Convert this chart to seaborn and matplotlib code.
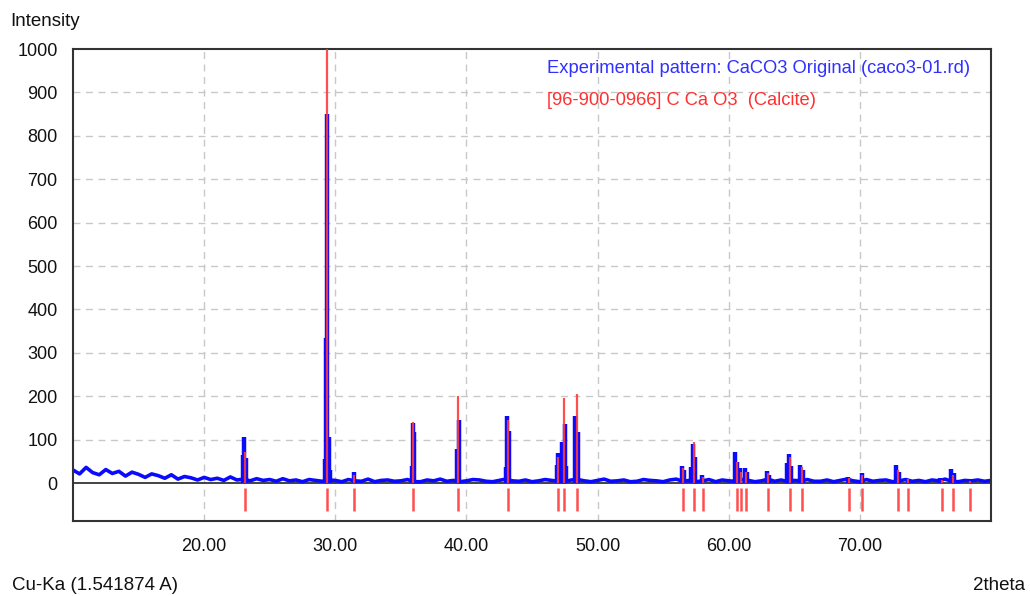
import numpy as np
import pandas as pd
import matplotlib
matplotlib.use('Agg')
import matplotlib.pyplot as plt
import seaborn as sns

# reference pattern (Calcite) - stick positions / intensities
ref_theta = [23.08, 29.38, 31.40, 35.92, 39.36, 43.16, 47.02, 47.42, 48.44,
             56.50, 57.38, 58.04, 60.60, 60.97, 61.35, 63.02, 64.66, 65.58,
             69.15, 70.20, 72.88, 73.66, 76.25, 77.12, 78.40]
ref_int = [72, 1000, 18, 140, 200, 145, 60, 195, 205,
           34, 95, 15, 49, 26, 26, 24, 60, 38,
           12, 18, 29, 10, 8, 18, 4]

# experimental pattern - peak tops
exp_theta = [22.95, 23.05, 23.18, 29.20, 29.30, 29.40, 29.52, 29.62, 31.40,
             35.85, 35.93, 36.02, 39.28, 39.42, 43.02, 43.10, 43.22,
             46.92, 46.99, 47.17, 47.30, 47.50, 47.63, 48.31, 48.51,
             56.44, 56.59, 57.13, 57.27, 57.46, 57.96,
             60.50, 60.63, 60.88, 61.21, 61.38, 62.91, 63.10,
             64.43, 64.56, 64.74, 65.46, 65.64, 69.08, 70.14,
             72.77, 72.95, 73.70, 76.14, 76.95, 77.20]
exp_int = [64, 105, 58, 55, 333, 850, 106, 30, 26,
           40, 138, 118, 78, 145, 37, 154, 120,
           41, 69, 53, 95, 137, 39, 154, 118,
           40, 30, 38, 91, 60, 18,
           72, 49, 34, 35, 26, 28, 18,
           45, 68, 40, 41, 30, 15, 22,
           41, 25, 10, 12, 32, 22]

# experimental pattern - background, every 0.5 deg from 10 to 80
bg_theta = np.arange(10.0, 80.01, 0.5)
bg_int = [30, 21, 36, 24, 19, 31, 22, 27, 16, 25, 20,
          13, 21, 17, 11, 19, 9, 15, 12, 7,
          13, 8, 11, 6, 14, 7, 9, 5, 10,
          6, 8, 4, 10, 5, 7, 3, 8, 6,
          4, 7, 6, 3, 8, 5, 4, 9, 3, 6,
          7, 4, 5, 8, 3, 3, 7, 5, 9, 4,
          6, 3, 5, 8, 7, 4, 3, 6, 9, 5,
          4, 7, 3, 5, 8, 6, 4, 3, 7, 8,
          5, 3, 6, 9, 4, 5, 7, 3, 4, 8,
          6, 5, 3, 7, 9, 4, 6, 3, 5, 8,
          3, 7, 5, 4, 8, 6, 3, 5, 9, 4,
          7, 3, 6, 5, 8, 4, 4, 7, 3, 6,
          9, 5, 3, 8, 4, 6, 7, 3, 5, 8,
          4, 6, 3, 7, 5, 9, 4, 3, 6, 5,
          7, 4, 6]

y_ticks = list(range(0, 1001, 100))
x_ticks = [20, 30, 40, 50, 60, 70]

BLUE = '#0a0aff'
RED = '#ff3b3b'

sns.set_style('white')
plt.rcParams['font.family'] = ['Liberation Sans', 'DejaVu Sans']

fig = plt.figure(figsize=(10.30, 5.96), dpi=100)
ax = fig.add_axes([73 / 1030, 1 - 521 / 596, (991 - 73) / 1030, (521 - 49) / 596])

bg = pd.DataFrame({'theta': bg_theta, 'intensity': bg_int})
ax.axhline(0, color='#222222', lw=1.2, zorder=1.5)
sns.lineplot(data=bg, x='theta', y='intensity', color=BLUE, lw=2.6, ax=ax,
             estimator=None, zorder=2)
ax.vlines(exp_theta, 0, exp_int, color=BLUE, lw=3.2, zorder=3)
ax.vlines(ref_theta, 0, ref_int, color=RED, lw=1.6, alpha=0.9, zorder=4)
ax.vlines(ref_theta, -12, -64, color=RED, lw=1.8, alpha=0.9, zorder=4)

ax.set_xlim(10, 80)
ax.set_ylim(-87.5, 1000)
ax.set_yticks(y_ticks)
ax.set_xticks(x_ticks)
ax.set_xticklabels(['%.2f' % v for v in x_ticks])
ax.set_xlabel('')
ax.set_ylabel('')
ax.tick_params(axis='both', direction='out', length=6, width=1.2, color='#222222',
               labelsize=13, labelcolor='#111111')
ax.tick_params(axis='x', pad=6)
ax.tick_params(axis='y', pad=5)

for v in y_ticks[1:-1]:
    ax.axhline(v, color='#c8c8c8', lw=1, ls=(0, (5, 4)), zorder=0)
for v in x_ticks:
    ax.axvline(v, color='#c8c8c8', lw=1, ls=(0, (5, 4)), zorder=0)

for s in ax.spines.values():
    s.set_color('#333333')
    s.set_linewidth(1.5)

ax.text(0.516, 0.958, 'Experimental pattern: CaCO3 Original (caco3-01.rd)',
        transform=ax.transAxes, color='#3030ff', fontsize=13.2, va='center', ha='left')
ax.text(0.516, 0.89, '[96-900-0966] C Ca O3  (Calcite)',
        transform=ax.transAxes, color='#ff3030', fontsize=13.2, va='center', ha='left')

fig.text(10 / 1030, 1 - 22 / 596, 'Intensity', fontsize=13.5, color='#111111', va='center', ha='left')
fig.text(12 / 1030, 1 - 585 / 596, 'Cu-Ka (1.541874 A)', fontsize=13.5, color='#111111',
         va='center', ha='left')
fig.text(1025 / 1030, 1 - 585 / 596, '2theta', fontsize=13.5, color='#111111',
         va='center', ha='right')

fig.savefig('out.png', dpi=100)
